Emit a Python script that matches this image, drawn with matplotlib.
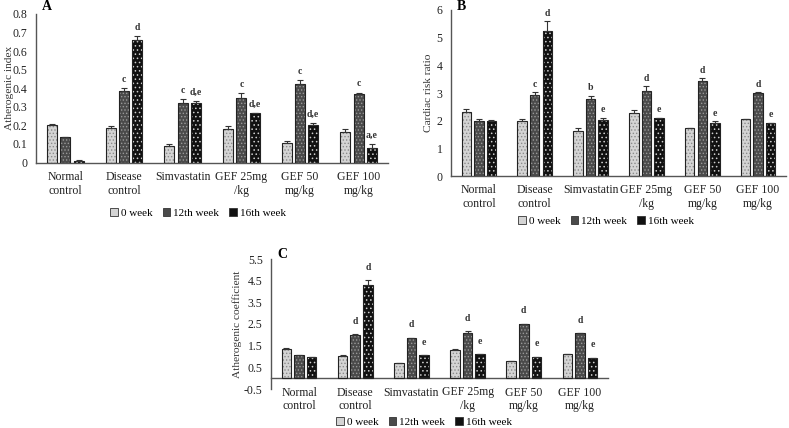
import numpy as np
import matplotlib
matplotlib.use("Agg")
import matplotlib.pyplot as plt
from matplotlib.patches import Patch

plt.rcParams['font.family'] = ['Liberation Serif', 'DejaVu Serif']
plt.rcParams['hatch.linewidth'] = 0.6

groups = ["Normal\ncontrol", "Disease\ncontrol", "Simvastatin", "GEF 25mg\n/kg", "GEF 50\nmg/kg", "GEF 100\nmg/kg"]
weeks = ["0 week", "12th week", "16th week"]

# panel A - atherogenic index
ai_vals = [[0.200, 0.185, 0.090, 0.180, 0.105, 0.162],
           [0.135, 0.385, 0.322, 0.350, 0.425, 0.367],
           [0.008, 0.660, 0.318, 0.265, 0.203, 0.080]]
ai_err = [[0.008, 0.012, 0.012, 0.018, 0.010, 0.020],
          [0.000, 0.018, 0.018, 0.025, 0.020, 0.010],
          [0.005, 0.020, 0.012, 0.003, 0.010, 0.022]]
ai_sig = [["", "", "", "", "", ""],
          ["", "c", "c", "c", "c", "c"],
          ["", "d", "d,e", "d,e", "d,e", "a,e"]]

# panel B - cardiac risk ratio
crr_vals = [[2.33, 1.97, 1.63, 2.27, 1.72, 2.05],
            [2.00, 2.92, 2.80, 3.07, 3.42, 3.01],
            [1.97, 5.25, 2.03, 2.08, 1.93, 1.90]]
crr_err = [[0.10, 0.08, 0.10, 0.10, 0.00, 0.02],
           [0.05, 0.10, 0.10, 0.18, 0.12, 0.02],
           [0.05, 0.35, 0.08, 0.03, 0.05, 0.02]]
crr_sig = [["", "", "", "", "", ""],
           ["", "c", "b", "d", "d", "d"],
           ["", "d", "e", "e", "e", "e"]]

# panel C - atherogenic coefficient
ac_vals = [[1.35, 1.03, 0.69, 1.30, 0.77, 1.12],
           [1.06, 2.00, 1.84, 2.10, 2.49, 2.07],
           [1.00, 4.30, 1.07, 1.12, 1.00, 0.95]]
ac_err = [[0.06, 0.06, 0.00, 0.06, 0.00, 0.00],
          [0.00, 0.03, 0.03, 0.08, 0.03, 0.02],
          [0.00, 0.22, 0.00, 0.00, 0.00, 0.00]]
ac_sig = [["", "", "", "", "", ""],
          ["", "d", "d", "d", "d", "d"],
          ["", "d", "e", "e", "e", "e"]]

faces = ['#d4d4d4', '#4a4a4a', '#111111']
hatch_cols = ['#8a8a8a', '#9a9a9a', '#cfcfcf']
hatches = ['.....', '.....', '....']

W, H = 789, 428
fig = plt.figure(figsize=(W / 100, H / 100), dpi=100)


def panel(box, vals, errs, sigs, ylim, ticks, ticklabels, ylabel, letter, sig_pad,
          label_x, letter_dy, leg_xy, zero_spine=False):
    l, t, r, b = box
    ax = fig.add_axes([l / W, 1 - b / H, (r - l) / W, (b - t) / H])
    x = np.arange(len(groups))
    w = 0.17
    for i in range(3):
        pos = x + (i - 1) * 0.225
        ax.bar(pos, vals[i], w, color=faces[i], edgecolor=hatch_cols[i], hatch=hatches[i], linewidth=0, zorder=2)
        ax.bar(pos, vals[i], w, fill=False, edgecolor='#222222', linewidth=0.8, zorder=3)
        ax.errorbar(pos, vals[i], yerr=[np.zeros(6), errs[i]], fmt='none', ecolor='#333333',
                    elinewidth=0.8, capsize=2.2, capthick=0.8, zorder=4)
        for j in range(6):
            if sigs[i][j]:
                ax.annotate(sigs[i][j], (pos[j], vals[i][j] + errs[i][j]), xytext=(0, sig_pad),
                            textcoords='offset points', ha='center', va='bottom', fontsize=7,
                            fontweight='bold', color='#333333')
    ax.set_xlim(-0.5, len(groups) - 0.5)
    ax.set_ylim(*ylim)
    ax.set_yticks(ticks)
    ax.set_yticklabels(ticklabels)
    ax.set_xticks(x)
    ax.set_xticklabels(groups)
    ax.tick_params(length=0, labelsize=8.5, colors='#222222')
    ax.tick_params(axis='x', pad=6)
    ax.tick_params(axis='y', pad=6)
    ax.spines['top'].set_visible(False)
    ax.spines['right'].set_visible(False)
    for s in ('left', 'bottom'):
        ax.spines[s].set_color('#555555')
        ax.spines[s].set_linewidth(1.0)
    if zero_spine:
        ax.spines['bottom'].set_position(('data', 0))
    ax.set_ylabel(ylabel, fontsize=8.2, color='#333333')
    ax.yaxis.set_label_coords(label_x / (r - l), 0.5)
    ax.annotate(letter, (0, 1), xycoords='axes fraction', xytext=(6, letter_dy),
                textcoords='offset pixels', fontsize=10, fontweight='bold', va='center', ha='left')
    handles = [Patch(facecolor=faces[i], edgecolor='#333333', linewidth=0.6) for i in range(3)]
    lx, ly = leg_xy
    ax.legend(handles, weeks, loc='center', bbox_to_anchor=((lx - l) / (r - l), (b - ly) / (b - t)),
              ncol=3, frameon=False, fontsize=8, handlelength=0.7, handleheight=0.7,
              handletextpad=0.25, columnspacing=0.9, borderpad=0)
    return ax


axA = panel((36, 14, 388, 162.5), ai_vals, ai_err, ai_sig, (0, 0.8), np.arange(0, 0.81, 0.1),
            ["0"] + ["%.1f" % v for v in np.arange(0.1, 0.81, 0.1)], "Atherogenic index", "A", 3,
            -22, 7, (198, 213))
axB = panel((451, 10, 786, 176), crr_vals, crr_err, crr_sig, (0, 6), range(7),
            [str(v) for v in range(7)], "Cardiac risk ratio", "B", 2.5,
            -18, 3, (606, 221))
axC = panel((271, 259, 608, 389), ac_vals, ac_err, ac_sig, (-0.5, 5.5), np.arange(-0.5, 5.6, 1.0),
            ["%.1f" % v for v in np.arange(-0.5, 5.6, 1.0)], "Atherogenic coefficient", "C", 6,
            -29, 5, (424, 422), zero_spine=True)

fig.savefig("out.png", dpi=100)
